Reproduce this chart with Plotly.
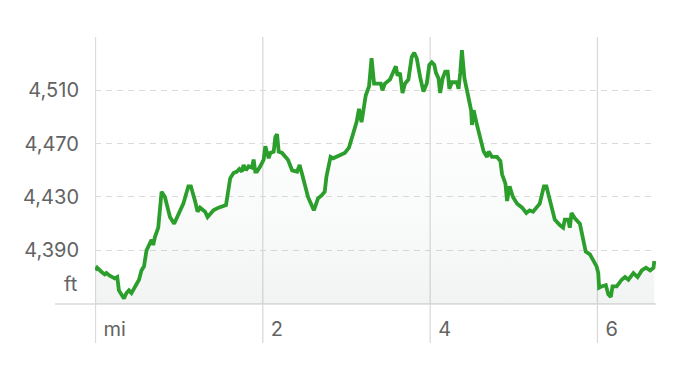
import plotly.graph_objects as go

# distance (mi) and elevation (ft)
dist_mi = [0.00, 0.02, 0.07, 0.11, 0.13, 0.17, 0.23, 0.26, 0.28, 0.31, 0.34, 0.37, 0.40, 0.43,
           0.47, 0.52, 0.55, 0.58, 0.61, 0.63, 0.67, 0.69, 0.71, 0.75, 0.79, 0.83, 0.89, 0.94,
           0.99, 1.05, 1.11, 1.14, 1.19, 1.22, 1.25, 1.31, 1.34, 1.41, 1.47, 1.51, 1.56, 1.61,
           1.65, 1.69, 1.72, 1.75, 1.77, 1.80, 1.83, 1.87, 1.89, 1.91, 1.93, 1.97, 2.01, 2.03,
           2.07, 2.09, 2.13, 2.15, 2.17, 2.19, 2.23, 2.30, 2.35, 2.41, 2.44, 2.47, 2.50, 2.54,
           2.61, 2.66, 2.70, 2.74, 2.76, 2.78, 2.81, 2.84, 2.88, 2.94, 2.98, 3.03, 3.06, 3.09,
           3.12, 3.15, 3.18, 3.21, 3.23, 3.27, 3.30, 3.33, 3.41, 3.43, 3.46, 3.52, 3.56, 3.59,
           3.61, 3.64, 3.67, 3.70, 3.74, 3.76, 3.78, 3.81, 3.84, 3.88, 3.92, 3.96, 3.99, 4.02,
           4.05, 4.07, 4.10, 4.12, 4.15, 4.18, 4.21, 4.23, 4.26, 4.32, 4.34, 4.36, 4.38, 4.41,
           4.46, 4.49, 4.50, 4.52, 4.56, 4.60, 4.64, 4.68, 4.70, 4.74, 4.80, 4.84, 4.86, 4.90,
           4.92, 4.95, 4.99, 5.04, 5.10, 5.15, 5.19, 5.23, 5.27, 5.31, 5.36, 5.39, 5.43, 5.49,
           5.55, 5.59, 5.61, 5.65, 5.67, 5.69, 5.73, 5.79, 5.83, 5.86, 5.91, 5.95, 5.99, 6.01,
           6.02, 6.05, 6.10, 6.13, 6.16, 6.18, 6.23, 6.29, 6.33, 6.37, 6.43, 6.48, 6.53, 6.58,
           6.63, 6.67, 6.68]
elev_ft = [4375, 4377, 4374, 4372, 4373, 4371, 4369, 4370, 4360, 4357, 4354, 4358, 4360, 4358,
           4363, 4368, 4375, 4378, 4390, 4393, 4398, 4394, 4400, 4407, 4434, 4430, 4415, 4410,
           4417, 4425, 4438, 4438, 4427, 4419, 4422, 4419, 4415, 4420, 4422, 4423, 4424, 4444,
           4448, 4449, 4451, 4449, 4454, 4450, 4453, 4452, 4458, 4449, 4449, 4453, 4458, 4468,
           4459, 4463, 4464, 4475, 4477, 4464, 4463, 4458, 4450, 4449, 4454, 4447, 4440, 4430,
           4420, 4429, 4431, 4434, 4445, 4452, 4460, 4459, 4460, 4462, 4463, 4467, 4474, 4480,
           4486, 4496, 4486, 4498, 4506, 4513, 4534, 4515, 4515, 4510, 4515, 4518, 4523, 4528,
           4521, 4523, 4508, 4515, 4518, 4528, 4535, 4538, 4534, 4520, 4509, 4515, 4529, 4531,
           4529, 4523, 4519, 4508, 4519, 4524, 4524, 4511, 4516, 4516, 4511, 4523, 4540, 4519,
           4505, 4495, 4484, 4495, 4484, 4473, 4464, 4460, 4464, 4460, 4460, 4457, 4447, 4440,
           4427, 4438, 4430, 4425, 4422, 4418, 4420, 4419, 4422, 4425, 4438, 4438, 4428, 4413,
           4409, 4407, 4413, 4413, 4407, 4418, 4414, 4410, 4398, 4389, 4387, 4383, 4378, 4373,
           4362, 4363, 4364, 4357, 4355, 4363, 4363, 4368, 4370, 4368, 4373, 4370, 4375, 4377,
           4375, 4377, 4382]

x_ticks = [0, 2, 4, 6]
x_labels = ["mi", "2", "4", "6"]
y_ticks = [4390, 4430, 4470, 4510]
y_labels = ["4,390", "4,430", "4,470", "4,510"]
y_unit_pos = 4365
y_unit_label = "ft"

x_range = [-0.006, 6.70]
y_range = [4349.8, 4549.9]

FONT = "Inter"
TXT = "#636363"
GRID = "#dadada"

fig = go.Figure()
fig.add_trace(go.Scatter(
    x=dist_mi, y=elev_ft, mode="lines",
    line=dict(color="#2c9e2c", width=3.8),
    fill="tozeroy",
    fillgradient=dict(type="vertical", start=y_range[0], stop=y_range[1],
                      colorscale=[[0, "rgba(120,140,140,0.10)"], [1, "rgba(255,255,255,0)"]]),
    hoverinfo="skip", showlegend=False,
))

shapes = []
for xv in x_ticks:
    shapes.append(dict(type="line", xref="x", yref="paper", x0=xv, x1=xv, y0=-0.146, y1=1,
                       line=dict(color=GRID, width=1.3), layer="below"))
shapes.append(dict(type="line", xref="paper", yref="paper", x0=-0.0713, x1=1, y0=0, y1=0,
                   line=dict(color=GRID, width=1.5), layer="below"))

fig.update_layout(
    width=684, height=370,
    margin=dict(l=95, r=28, t=37, b=66),
    paper_bgcolor="white", plot_bgcolor="white",
    font=dict(family=FONT, size=20, color=TXT),
    shapes=shapes,
    annotations=[dict(x=0, xref="paper", y=y_unit_pos, yref="y", text=y_unit_label,
                      showarrow=False, xanchor="right", yanchor="middle", xshift=-15,
                      font=dict(family=FONT, size=20, color=TXT))],
    xaxis=dict(range=x_range, tickvals=x_ticks, ticktext=x_labels, showgrid=False,
               zeroline=False, showline=False, ticks="", ticklabelposition="outside right",
               ticklabelshift=8, ticklabelstandoff=11, fixedrange=True),
    yaxis=dict(range=y_range, tickvals=y_ticks, ticktext=y_labels, showgrid=True,
               gridcolor=GRID, griddash="6px,5px", gridwidth=1.2, zeroline=False,
               showline=False, ticks="", ticklabelstandoff=15, fixedrange=True),
)

fig.write_html("out.html")
